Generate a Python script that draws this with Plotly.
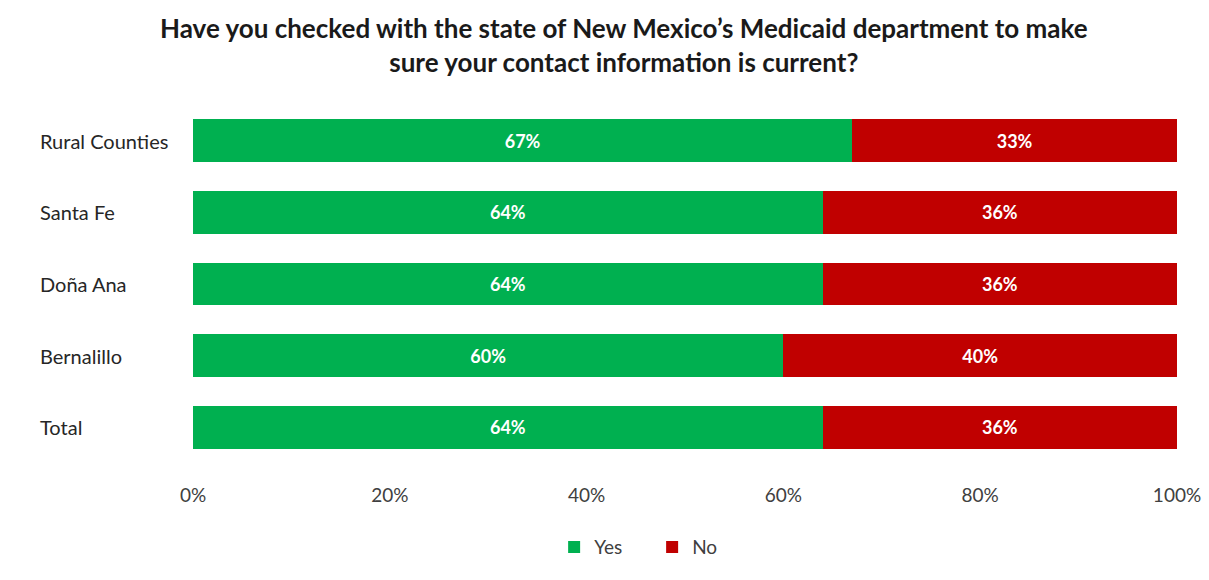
import plotly.graph_objects as go

# Survey responses by region (percent)
regions = ["Rural Counties", "Santa Fe", "Doña Ana", "Bernalillo", "Total"]
yes_pct = [67, 64, 64, 60, 64]
no_pct = [33, 36, 36, 40, 36]
x_ticks = [0, 20, 40, 60, 80, 100]
x_tick_labels = ["0%", "20%", "40%", "60%", "80%", "100%"]

GREEN = "#00B050"
RED = "#C00000"
FONT = "Lato, 'Noto Sans', sans-serif"
TITLE = ("Have you checked with the state of New Mexico’s Medicaid department to make"
         "<br>sure your contact information is current?")


def seg_labels(values):
    return [f"{v}%" for v in values]


fig = go.Figure()
fig.add_trace(go.Bar(
    y=regions, x=yes_pct, name="Yes", orientation="h",
    marker=dict(color=GREEN, line=dict(width=0)),
    text=seg_labels(yes_pct), texttemplate="%{text}",
    textposition="inside", insidetextanchor="middle",
    textfont=dict(color="white", size=18, family=FONT, weight="bold"),
))
fig.add_trace(go.Bar(
    y=regions, x=no_pct, name="No", orientation="h",
    marker=dict(color=RED, line=dict(width=0)),
    text=seg_labels(no_pct), texttemplate="%{text}",
    textposition="inside", insidetextanchor="middle",
    textfont=dict(color="white", size=18, family=FONT, weight="bold"),
))

# Left-aligned category labels
for r in regions:
    fig.add_annotation(
        x=-0.1575, xref="paper", y=r, yref="y", text=r, showarrow=False,
        xanchor="left", yanchor="middle",
        font=dict(size=20, color="#262626", family=FONT),
    )

# Two-line chart title
fig.add_annotation(
    x=0.4375, xref="paper", y=1.264, yref="paper", text=TITLE, showarrow=False,
    xanchor="center", yanchor="top", align="center",
    font=dict(size=26, color="#1a1a1a", family=FONT, weight="bold"),
)

fig.update_layout(
    width=1209, height=580,
    paper_bgcolor="white", plot_bgcolor="white",
    barmode="stack", bargap=0.4,
    margin=dict(l=193, r=32, t=105, b=117, autoexpand=False),
    xaxis=dict(
        range=[0, 100], tickvals=x_ticks, ticktext=x_tick_labels,
        showgrid=False, zeroline=False, showline=False, automargin=False,
        tickfont=dict(size=19, color="#404040", family=FONT),
        ticklabelstandoff=19, fixedrange=True,
    ),
    yaxis=dict(
        categoryorder="array", categoryarray=regions, autorange="reversed",
        showticklabels=False, showgrid=False, zeroline=False, showline=False,
        automargin=False,
    ),
    legend=dict(
        orientation="h", x=0.367, xanchor="left", y=-0.235, yanchor="middle",
        font=dict(size=19, color="#404040", family=FONT),
        traceorder="normal", itemwidth=30, entrywidth=53,
    ),
    showlegend=True,
)

fig.write_html("out.html")
